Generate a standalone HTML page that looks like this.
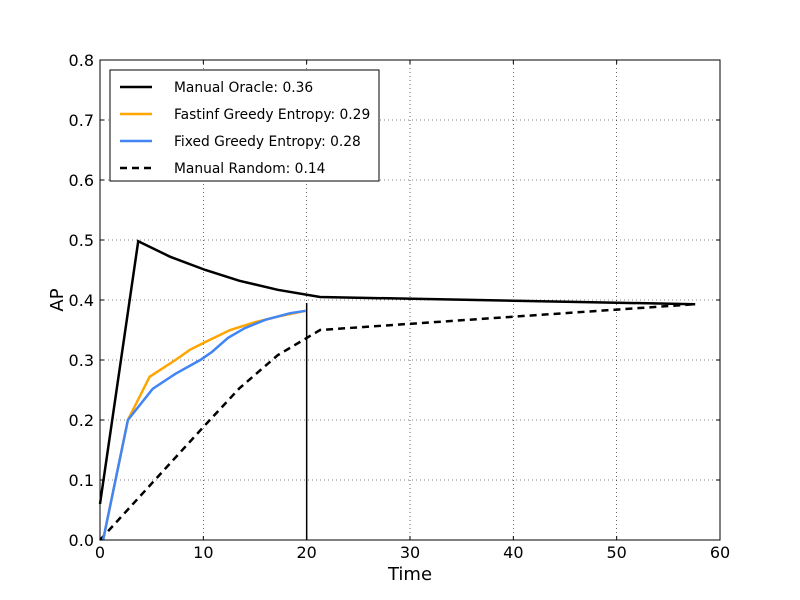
<!DOCTYPE html>
<html><head><meta charset="utf-8"><style>
body{margin:0;background:#fff;}
svg{display:block;font-family:"DejaVu Sans","Liberation Sans",sans-serif;}
</style></head><body>
<svg id="chart" width="800" height="600">
<rect x="0" y="0" width="800" height="600" fill="#fff"/>
<g id="grid"></g>
<g id="series"></g>
<rect x="100" y="60" width="620" height="480" fill="none" stroke="#000" stroke-width="1"/>
<g id="ticks"></g>
<text x="410" y="580" font-size="18" text-anchor="middle">Time</text>
<text x="63" y="300" font-size="18" text-anchor="middle" transform="rotate(-90 63 300)">AP</text>
<g id="legend"></g>
</svg>
<script>
const xTicks=[0,10,20,30,40,50,60];
const yTicks=[0,0.1,0.2,0.3,0.4,0.5,0.6,0.7,0.8];
const oracleX=[0,3.7,6.8,10.2,13.5,17.2,21.3,57.6];
const oracleY=[0.06,0.498,0.472,0.45,0.432,0.417,0.405,0.393];
const fastinfX=[0.3,2.7,4.8,7.3,8.7,10.2,12.6,15,17.4,19.9];
const fastinfY=[0,0.2,0.272,0.3,0.317,0.33,0.35,0.363,0.373,0.382];
const fixedX=[0.3,2.7,5.1,7.3,9.7,10.8,12.4,14,16,18.4,19.9];
const fixedY=[0,0.2,0.252,0.277,0.3,0.313,0.337,0.353,0.367,0.378,0.382];
const randomX=[0,10.2,13.5,17.2,21.3,57.6];
const randomY=[0,0.192,0.253,0.308,0.35,0.393];
const cutoffX=[20,20];
const cutoffY=[0,0.395];
const labels=["Manual Oracle: 0.36","Fastinf Greedy Entropy: 0.29","Fixed Greedy Entropy: 0.28","Manual Random: 0.14"];
const NS="http://www.w3.org/2000/svg";
const sx=v=>100+v*620/60, sy=v=>540-v*600;
function mk(tag,attrs,parent){const e=document.createElementNS(NS,tag);for(const k in attrs)e.setAttribute(k,attrs[k]);parent.appendChild(e);return e;}
const grid=document.getElementById('grid'),ticks=document.getElementById('ticks'),series=document.getElementById('series'),legend=document.getElementById('legend');
xTicks.forEach(t=>{const x=sx(t);
 const g=mk('line',{x1:x,x2:x,y1:60,y2:540,stroke:'#000','stroke-width':0.6,'stroke-dasharray':'1,3'},grid);
 
 mk('line',{x1:x,x2:x,y1:540,y2:536,stroke:'#000'},ticks);mk('line',{x1:x,x2:x,y1:60,y2:64,stroke:'#000'},ticks);
 const l=mk('text',{x:x,y:558,'font-size':16,'text-anchor':'middle'},ticks);l.textContent=t;
 });
yTicks.forEach(t=>{const y=sy(t);
 const g=mk('line',{x1:100,x2:720,y1:y,y2:y,stroke:'#000','stroke-width':0.6,'stroke-dasharray':'1,3'},grid);
 
 mk('line',{x1:100,x2:104,y1:y,y2:y,stroke:'#000'},ticks);mk('line',{x1:716,x2:720,y1:y,y2:y,stroke:'#000'},ticks);
 const l=mk('text',{x:94,y:y+6,'font-size':16,'text-anchor':'end'},ticks);l.textContent=t.toFixed(1);
 });
function line(xs,ys,color,dash,name){const p=mk('polyline',{points:xs.map((x,i)=>sx(x)+','+sy(ys[i])).join(' '),fill:'none',stroke:color,'stroke-width':dash==='cut'?1.5:2.5,'stroke-dasharray':dash&&dash!=='cut'?dash:'none'},series);
 }
line(randomX,randomY,'#000','7,5','manual-random-line');
line(cutoffX,cutoffY,'#000','cut','cutoff-line');
line(fastinfX,fastinfY,'#ffa500',null,'fastinf-greedy-entropy-line');
line(fixedX,fixedY,'#4285f4',null,'fixed-greedy-entropy-line');
line(oracleX,oracleY,'#000',null,'manual-oracle-line');
const lb=mk('rect',{x:110,y:70,width:269,height:111,fill:'#fff',stroke:'#000'},legend);

const cols=['#000','#ffa500','#4285f4','#000'],dashes=['none','none','none','7,5'];
labels.forEach((t,i)=>{const y=87+i*27;
 const s=mk('line',{x1:120,x2:152,y1:y,y2:y,stroke:cols[i],'stroke-width':2.5,'stroke-dasharray':dashes[i]},legend);
 
 const l=mk('text',{x:174,y:y+5,'font-size':13.8},legend);l.textContent=t;
 });
</script>
</body></html>
